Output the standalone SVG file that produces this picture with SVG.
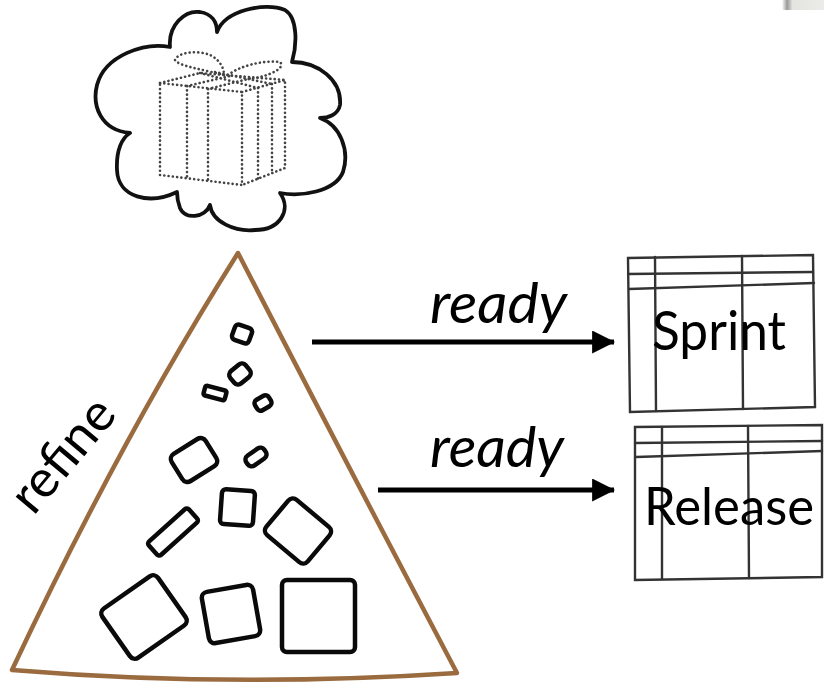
<svg xmlns="http://www.w3.org/2000/svg" width="824" height="691" viewBox="0 0 824 691">
  <defs>
    <style>
      .ink { fill: none; stroke: #111; stroke-linecap: round; stroke-linejoin: round; }
      .dots { fill: none; stroke: #444; stroke-width: 2.6; stroke-linecap: round; stroke-dasharray: 0.1 4.2; }
      .item { fill: none; stroke: #0a0a0a; stroke-width: 4.5; stroke-linejoin: round; }
      .grid { fill: none; stroke: #333; stroke-width: 2.4; stroke-linecap: round; }
      .label { font-family: "Lato", "Open Sans", "Liberation Sans", sans-serif; fill: #000; }
      .conn { stroke: #000; stroke-width: 5; fill: none; }
    </style>
    <marker id="arrow" viewBox="0 0 10 10" refX="9.5" refY="5" markerWidth="4.6" markerHeight="4.6" orient="auto" markerUnits="strokeWidth">
      <path d="M0,0 L10,5 L0,10 Z" fill="#000"/>
    </marker>
    <linearGradient id="edge" x1="0" y1="0" x2="1" y2="0">
      <stop offset="0" stop-color="#fff"/>
      <stop offset="0.12" stop-color="#999"/>
      <stop offset="0.25" stop-color="#e4e4e0"/>
      <stop offset="1" stop-color="#ebebe7"/>
    </linearGradient>
  </defs>

  <rect width="824" height="691" fill="#fff"/>

  <!-- corner scrap, top right -->
  <rect x="782" y="0" width="42" height="10" fill="url(#edge)"/>

  <!-- vision cloud with dotted gift -->
  <g id="vision">
    <path class="ink" stroke-width="3.8" d="M217,32 C225,10 265,2 285,10 C298,18 297,45 292,62 C318,62 342,80 340,105 C338,115 328,118 320,118 C340,125 350,150 343,172 C335,192 300,197 280,193 C292,210 280,230 255,230 C235,232 212,222 210,205 C205,218 185,220 180,208 C177,200 177,195 177,192 C150,205 118,198 117,170 C116,150 122,138 130,133 C100,130 92,105 97,85 C105,55 145,42 170,47 C168,25 185,10 200,12 C212,14 217,22 217,32 Z"/>
    <g id="gift">
      <path class="dots" d="M160,83 L242,92 L242,185 L160,175 Z"/>
      <path class="dots" d="M242,92 L285,80 L285,168 L242,185"/>
      <path class="dots" d="M160,83 L200,73 L285,80"/>
      <path class="dots" d="M187,86 L187,178 M208,89 L208,181 M258,88 L258,180 M272,84 L272,174"/>
      <path class="dots" d="M187,86 L230,76 M208,89 L252,78 M200,73 L258,88 M215,72 L272,84"/>
      <path class="dots" d="M224,75 C205,70 178,66 175,60 C178,52 198,50 210,55 C220,60 224,68 224,75"/>
      <path class="dots" d="M228,75 C240,66 262,60 280,62 C286,68 270,76 250,79"/>
    </g>
  </g>

  <!-- backlog pyramid -->
  <g id="backlog">
    <path fill="#fff" stroke="#9b6b40" stroke-width="4.5" stroke-linejoin="round" d="M238,253 Q120,440 12,670 Q230,688 457,673 Q350,470 238,253 Z"/>
    <g id="items">
      <rect class="item" x="-9" y="-8" width="18" height="16" rx="4" transform="translate(242,334) rotate(20)"/>
      <rect class="item" x="-10" y="-8" width="20" height="16" rx="5" transform="translate(240,374) rotate(-40)"/>
      <rect class="item" x="-11" y="-5" width="22" height="10" rx="2" transform="translate(215,393) rotate(15)"/>
      <rect class="item" x="-8" y="-6" width="16" height="12" rx="4" transform="translate(263,403) rotate(-30)"/>
      <rect class="item" x="-20" y="-16" width="40" height="32" rx="6" transform="translate(194,460) rotate(-32)"/>
      <rect class="item" x="-11" y="-6" width="22" height="12" rx="5" transform="translate(256,457) rotate(-35)"/>
      <rect class="item" x="-27" y="-9" width="54" height="18" rx="3" transform="translate(173,532) rotate(-42)"/>
      <rect class="item" x="-16" y="-17" width="33" height="35" rx="4" transform="translate(237,507) rotate(4)"/>
      <rect class="item" x="-27" y="-23" width="54" height="46" rx="6" transform="translate(298,531) rotate(40)"/>
      <rect class="item" x="-34" y="-30" width="68" height="60" rx="6" transform="translate(144,617) rotate(-35)"/>
      <rect class="item" x="-26" y="-26" width="52" height="52" rx="6" transform="translate(231,614) rotate(-10)"/>
      <rect class="item" x="-36" y="-36" width="73" height="72" rx="5" transform="translate(318,616)"/>
    </g>
    <text class="label" font-size="52" text-anchor="middle" textLength="132" lengthAdjust="spacingAndGlyphs" transform="translate(76,466) rotate(-50)">refine</text>
  </g>

  <!-- sprint backlog table -->
  <g id="sprint">
    <path class="grid" d="M628,258 L813,255 L815,407 L630,412 Z"/>
    <path class="grid" d="M655,257 L656,411 M742,256 L743,409"/>
    <path class="grid" d="M628,274 L813,272 M629,289 L814,283"/>
    <text class="label" x="652" y="350" font-size="54" textLength="134" lengthAdjust="spacingAndGlyphs">Sprint</text>
  </g>

  <!-- release backlog table -->
  <g id="release">
    <path class="grid" d="M635,427 L822,425 L822,577 L635,580 Z"/>
    <path class="grid" d="M662,427 L662,579 M748,426 L749,578"/>
    <path class="grid" d="M635,443 L822,441 M636,457 L822,451"/>
    <text class="label" x="644" y="525" font-size="52" textLength="170" lengthAdjust="spacingAndGlyphs">Release</text>
  </g>

  <!-- connectors -->
  <g id="connectors">
    <line class="conn" x1="312" y1="342" x2="614" y2="342" marker-end="url(#arrow)"/>
    <line class="conn" x1="378" y1="490" x2="614" y2="490" marker-end="url(#arrow)"/>
    <text class="label" x="430" y="323" font-size="56" font-style="italic" textLength="137" lengthAdjust="spacingAndGlyphs">ready</text>
    <text class="label" x="430" y="467" font-size="56" font-style="italic" textLength="134" lengthAdjust="spacingAndGlyphs">ready</text>
  </g>
</svg>
